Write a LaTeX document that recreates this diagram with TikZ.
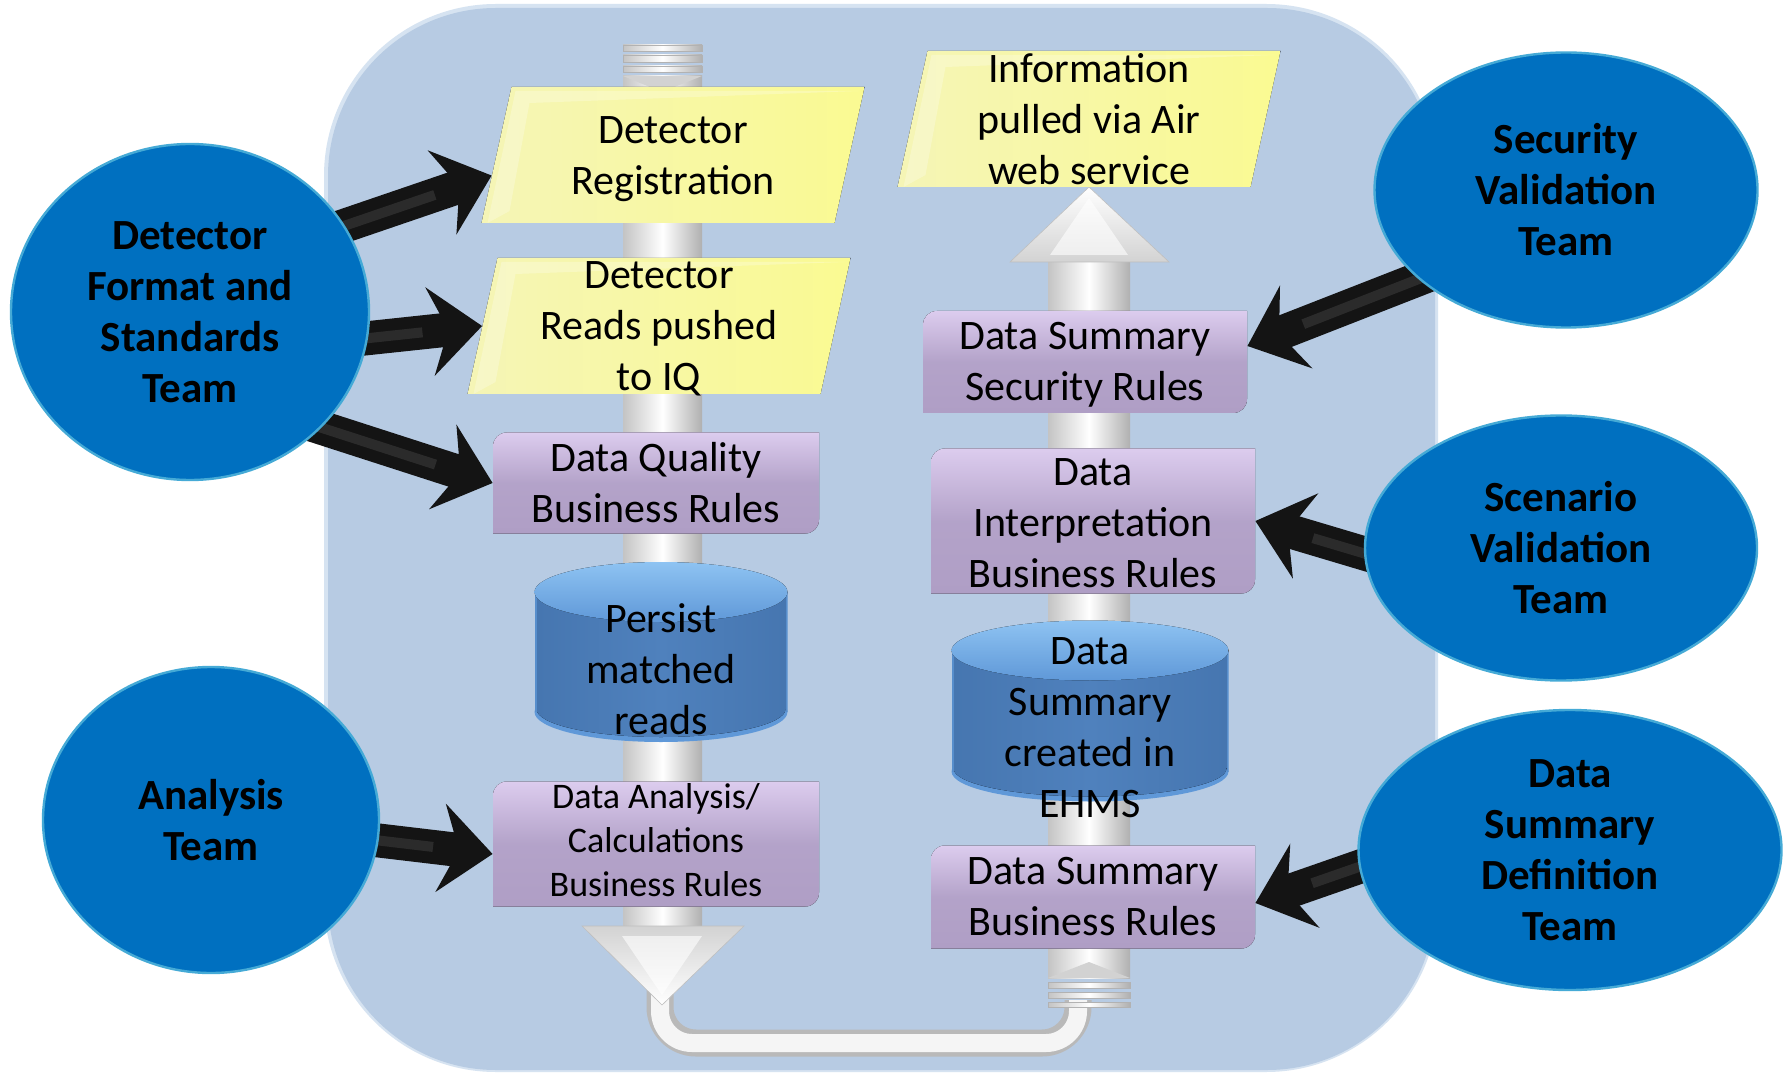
\documentclass[tikz,border=0pt]{standalone}
\usepackage{fontspec}
\setmainfont{Carlito}
\usetikzlibrary{shapes.geometric,arrows.meta,calc}
\pgfdeclarelayer{back}
\pgfdeclarelayer{arrowsL}
\pgfsetlayers{back,arrowsL,main}
\definecolor{bgblue}{HTML}{B7CBE3}
\definecolor{bgedge}{HTML}{D6E3F1}
\definecolor{teamblue}{HTML}{0070C0}
\definecolor{teamedge}{HTML}{45AAD6}
\definecolor{yelL}{HTML}{F5F5B6}
\definecolor{yelR}{HTML}{FAFA92}
\definecolor{purp}{HTML}{AF9EC5}
\definecolor{purpH}{HTML}{DCCCEE}
\definecolor{cylblue}{HTML}{4F81BD}
\definecolor{cylD}{HTML}{4676B0}
\definecolor{cyltop}{HTML}{5F98D8}
\definecolor{cyltopL}{HTML}{8EC3F2}
\definecolor{pipeD}{HTML}{C4C4C4}
\tikzset{
  txt/.style={align=center, font=\fontsize{21}{25.5}\selectfont, inner sep=0pt},
  txtsmall/.style={align=center, font=\fontsize{18}{22}\selectfont, inner sep=0pt},
  team/.style={ellipse, fill=teamblue, draw=teamedge, line width=1.2pt, align=center,
    inner sep=0pt, font=\bfseries\fontsize{21.5}{25.5}\selectfont},
  para/.style={rectangle, minimum width=191.5pt, minimum height=68pt, inner sep=0pt,
    path picture={
      \fill[left color=yelL, right color=yelR]
        (path picture bounding box.south west)
        -- ($(path picture bounding box.north west)+(15pt,0)$)
        -- (path picture bounding box.north east)
        -- ($(path picture bounding box.south east)+(-15pt,0)$) -- cycle;
      \fill[white, opacity=0.25]
        ($(path picture bounding box.south west)+(3pt,0)$)
        -- ($(path picture bounding box.north west)+(17pt,-2pt)$)
        -- ($(path picture bounding box.north east)+(-3pt,-2pt)$)
        -- ($(path picture bounding box.north west)+(24pt,-8pt)$)
        -- ($(path picture bounding box.south west)+(14pt,6pt)$) -- cycle;}},
  rulebox/.style 2 args={rectangle, inner sep=0pt, minimum width=#1, minimum height=#2,
    path picture={
      \fill[top color=purpH, bottom color=purp, middle color=purp!90!purpH]
        (path picture bounding box.south west)
        -- ($(path picture bounding box.north west)+(0,-7pt)$)
        .. controls +(0,4pt) and +(-4pt,0) .. ($(path picture bounding box.north west)+(7pt,0)$)
        -- (path picture bounding box.north east)
        -- ($(path picture bounding box.south east)+(0,7pt)$)
        .. controls +(0,-4pt) and +(4pt,0) .. ($(path picture bounding box.south east)+(-7pt,0)$)
        -- cycle;}},
  cylbody/.style={left color=cylD, right color=cylD, middle color=cylblue},
  cyl/.style 2 args={rectangle, inner sep=0pt, minimum width=#1, minimum height=#2,
    path picture={
      \fill[cyltop] ($(path picture bounding box.south)+(0,15pt)$) ellipse [x radius=#1/2, y radius=15pt];
      \fill[cylbody] ($(path picture bounding box.south)+(0,16.5pt)$) ellipse [x radius=#1/2-1pt, y radius=14pt];
      \fill[cylbody]
        ($(path picture bounding box.south west)+(1pt,16.5pt)$) rectangle ($(path picture bounding box.north east)+(-1pt,-15pt)$);
      \fill[cyltop!70!cylD] ($(path picture bounding box.south west)+(0,15pt)$) rectangle ($(path picture bounding box.north west)+(1pt,-15pt)$);
      \fill[cyltop!70!cylD] ($(path picture bounding box.south east)+(-1pt,15pt)$) rectangle ($(path picture bounding box.north east)+(0,-15pt)$);
      \fill[top color=cyltopL, bottom color=cyltop] ($(path picture bounding box.north)+(0,-15pt)$) ellipse [x radius=#1/2, y radius=15pt];
    }},
  pipe/.style={left color=pipeD, right color=pipeD!90!black, middle color=white},
  blk/.style={line width=17pt, draw=black!92, -{Stealth[length=26pt,width=44pt,inset=9pt]},
    postaction={draw=gray!60, line width=5pt, opacity=0.15, shorten >=30pt, -}},
}
\begin{document}
\begin{tikzpicture}[x=0.5pt,y=-0.5pt]
\useasboundingbox (0,0) rectangle (1791,1074);

% ---------- background panel and flow pipes ----------
\begin{pgfonlayer}{back}
  \fill[white] (0,0) rectangle (1791,1074);
  \fill[bgedge, rounded corners=86pt] (324,4) rectangle (1438,1072);
  \fill[bgblue, rounded corners=84pt] (328,8) rectangle (1435,1070);
  % U-turn pipe at bottom
  \draw[gray!55, line width=13.5pt, rounded corners=18pt] (660,990) -- (660,1043) -- (1078,1043) -- (1078,1000);
  \draw[white!92!gray, line width=9pt, rounded corners=16pt] (660,990) -- (660,1043) -- (1078,1043) -- (1078,1000);
  % left pipe (downward)
  \shade[pipe] (623,76) rectangle (702,935);
  \foreach \a/\b in {45/51,55/62,66/72}{\shade[pipe, draw=gray!60, line width=0.3pt] (623,\a) rectangle (702,\b);}
  \fill[gray!35] (623,76) -- (702,76) -- (662,92) -- cycle;
  \shade[top color=gray!35, bottom color=white, draw=gray!50, line width=0.3pt] (582,926) -- (744,926) -- (662,1005) -- cycle;
  \fill[white, opacity=0.6] (622,936) -- (702,936) -- (662,995) -- cycle;
  % right pipe (upward)
  \shade[pipe] (1048,260) rectangle (1130,978);
  \fill[gray!35] (1048,978) -- (1130,978) -- (1089,962) -- cycle;
  \foreach \a/\b in {982/988,992/998,1002/1007}{\shade[pipe, draw=gray!60, line width=0.3pt] (1048,\a) rectangle (1130,\b);}
  \shade[top color=white, bottom color=gray!35, draw=gray!50, line width=0.3pt] (1010,262) -- (1169,262) -- (1089,187) -- cycle;
  \fill[white, opacity=0.6] (1050,255) -- (1128,255) -- (1089,198) -- cycle;
\end{pgfonlayer}

% ---------- process shapes ----------
\node[para, label={[txt, yshift=-2pt]center:{Detector\\Registration}}] (dreg) at (673,155) {};
\node[para, label={[txt, yshift=-1.5pt]center:{Detector\\Reads pushed\\to IQ}}] (dreads) at (659,326) {};
\node[para, label={[txt]center:{Information\\pulled via Air\\web service}}] (info) at (1089,119) {};

\node[rulebox={163pt}{50.5pt}, label={[txt]center:{Data Quality\\Business Rules}}] (dq) at (656,483) {};
\node[rulebox={163pt}{62.5pt}, label={[txtsmall, yshift=2pt]center:{Data Analysis/\\Calculations\\Business Rules}}] (dac) at (656,844) {};
\node[rulebox={162pt}{51pt}, label={[txt, yshift=-1.5pt]center:{Data Summary\\Security Rules}}] (dssr) at (1085,362) {};
\node[rulebox={162pt}{72.5pt}, label={[txt, yshift=-1pt]center:{Data\\Interpretation\\Business Rules}}] (dibr) at (1093,521) {};
\node[rulebox={162pt}{51.5pt}, label={[txt]center:{Data Summary\\Business Rules}}] (dsbr) at (1093,897) {};

\node[cyl={126.5pt}{90pt}, label={[txt, yshift=-8.5pt]center:{Persist\\matched\\reads}}] (persist) at (661,652) {};
\node[cyl={138.5pt}{90.5pt}, label={[txt, yshift=-8.5pt]center:{Data\\Summary\\created in\\EHMS}}] (dsc) at (1090,711) {};

% ---------- teams ----------
\node[team, minimum width=179pt, minimum height=168pt] (dfst) at (190,312) {Detector\\Format and\\Standards\\Team};
\node[team, minimum width=168pt, minimum height=153pt] (ana) at (211,820) {Analysis\\Team};
\node[team, minimum width=191.5pt, minimum height=137.5pt] (sec) at (1566,190) {Security\\Validation\\Team};
\node[team, minimum width=196pt, minimum height=132.5pt] (scen) at (1561,548) {Scenario\\Validation\\Team};
\node[team, minimum width=211.5pt, minimum height=140pt] (dsdt) at (1570,850) {Data\\Summary\\Definition\\Team};

% ---------- responsibility arrows ----------
\begin{pgfonlayer}{arrowsL}
  \draw[blk] ($(dfst.center)!0.85!(dfst.31)$) -- ($(dreg.south west)!0.35!(dreg.north west)+(5.25pt,0)$);
  \draw[blk] ($(dfst.center)!0.85!(dfst.-11)$) -- ($(dreads.south west)!0.5!(dreads.north west)+(7.5pt,0)$);
  \draw[blk] ($(dfst.center)!0.85!(dfst.-46)$) -- (dq.west);
  \draw[blk] ($(ana.center)!0.85!(ana.-7)$) -- ($(dac.west)+(0,10)$);
  \draw[blk] ($(sec.center)!0.85!(sec.213)$) -- ($(dssr.east)+(0,-16)$);
  \draw[blk] ($(scen.center)!0.85!(scen.185)$) -- (dibr.east);
  \draw[blk] ($(dsdt.center)!0.85!(dsdt.182)$) -- ($(dsbr.east)+(0,6)$);
\end{pgfonlayer}
\end{tikzpicture}
\end{document}
